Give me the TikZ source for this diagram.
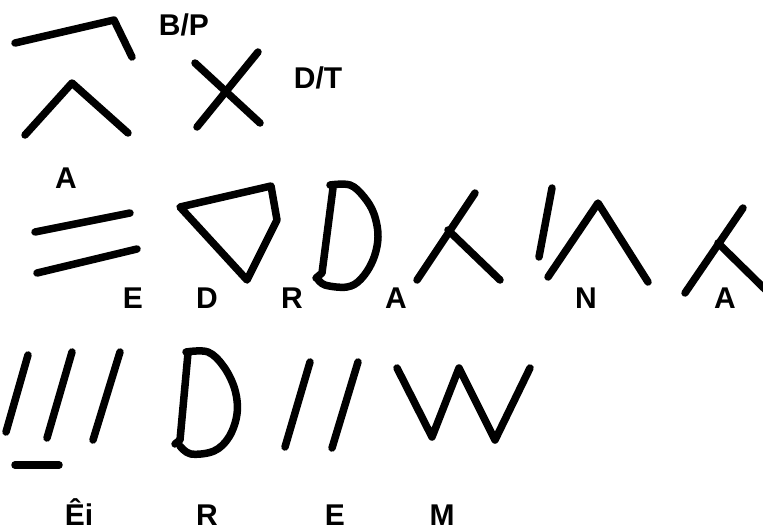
\documentclass[tikz,border=0pt]{standalone}
\usepackage{fontspec}
\setmainfont{Liberation Sans}
\begin{document}
\begin{tikzpicture}[x=1pt,y=-1pt,
  stroke/.style={line width=7.5pt,line cap=round,line join=round,black},
  lbl/.style={font=\fontsize{30}{30}\selectfont\bfseries,inner sep=0pt,anchor=base}]
\useasboundingbox (0,0) rectangle (763,531);
\begin{scope}
\clip (0,0) rectangle (763,531);
% row 1
\draw[stroke] (15,43) -- (114,20) -- (132,57);
\draw[stroke] (25,135) -- (72,83) -- (128,133);
\draw[stroke] (195,63) -- (260,123);
\draw[stroke] (258,52) -- (197,127);
% row 2
\draw[stroke] (35,232) -- (130,213);
\draw[stroke] (37,273) -- (137,249);
\draw[stroke] (180,207) -- (271,186) -- (277,220) -- (247,280) -- cycle;
\draw[stroke] (333,188) -- (322,273) -- (316,278);
\draw[stroke] plot[smooth,tension=0.6] coordinates {(330,185) (350,185) (364,197) (374,214) (378,237) (373,260) (361,279) (347,287) (325,285) (317,278)};
\draw[stroke] (417,280) -- (475,193);
\draw[stroke] (448,230) -- (500,280);
\draw[stroke] (552,188) -- (539,257);
\draw[stroke] (548,277) -- (598,203) -- (648,282);
\draw[stroke] (685,293) -- (743,208);
\draw[stroke] (718,243) -- (775,299);
% row 3
\draw[stroke] (28,355) -- (6,432);
\draw[stroke] (72,352) -- (47,438);
\draw[stroke] (120,352) -- (93,440);
\draw[stroke] (15,465) -- (59,465);
\draw[stroke] (188,353) -- (180,440) -- (175,444);
\draw[stroke] plot[smooth,tension=0.6] coordinates {(186,352) (208,352) (224,367) (235,390) (237,414) (229,437) (214,451) (191,454) (180,446)};
\draw[stroke] (310,362) -- (285,447);
\draw[stroke] (358,362) -- (332,448);
\draw[stroke] (397,368) -- (432,437) -- (459,368) -- (495,440) -- (530,368);
\end{scope}
% labels
\node[lbl] (bp) at (184,35) {B/P};
\node[lbl] (dt) at (318,88) {D/T};
\node[lbl] (a1) at (66,188) {A};
\node[lbl] (e1) at (133,308) {E};
\node[lbl] (d1) at (207,308) {D};
\node[lbl] (r1) at (292,308) {R};
\node[lbl] (a2) at (396,308) {A};
\node[lbl] (n1) at (586,308) {N};
\node[lbl] (a3) at (725,308) {A};
\node[lbl] (ei) at (79,525) {Êi};
\node[lbl] (r2) at (207,525) {R};
\node[lbl] (e2) at (335,525) {E};
\node[lbl] (m1) at (442,525) {M};
\end{tikzpicture}
\end{document}
